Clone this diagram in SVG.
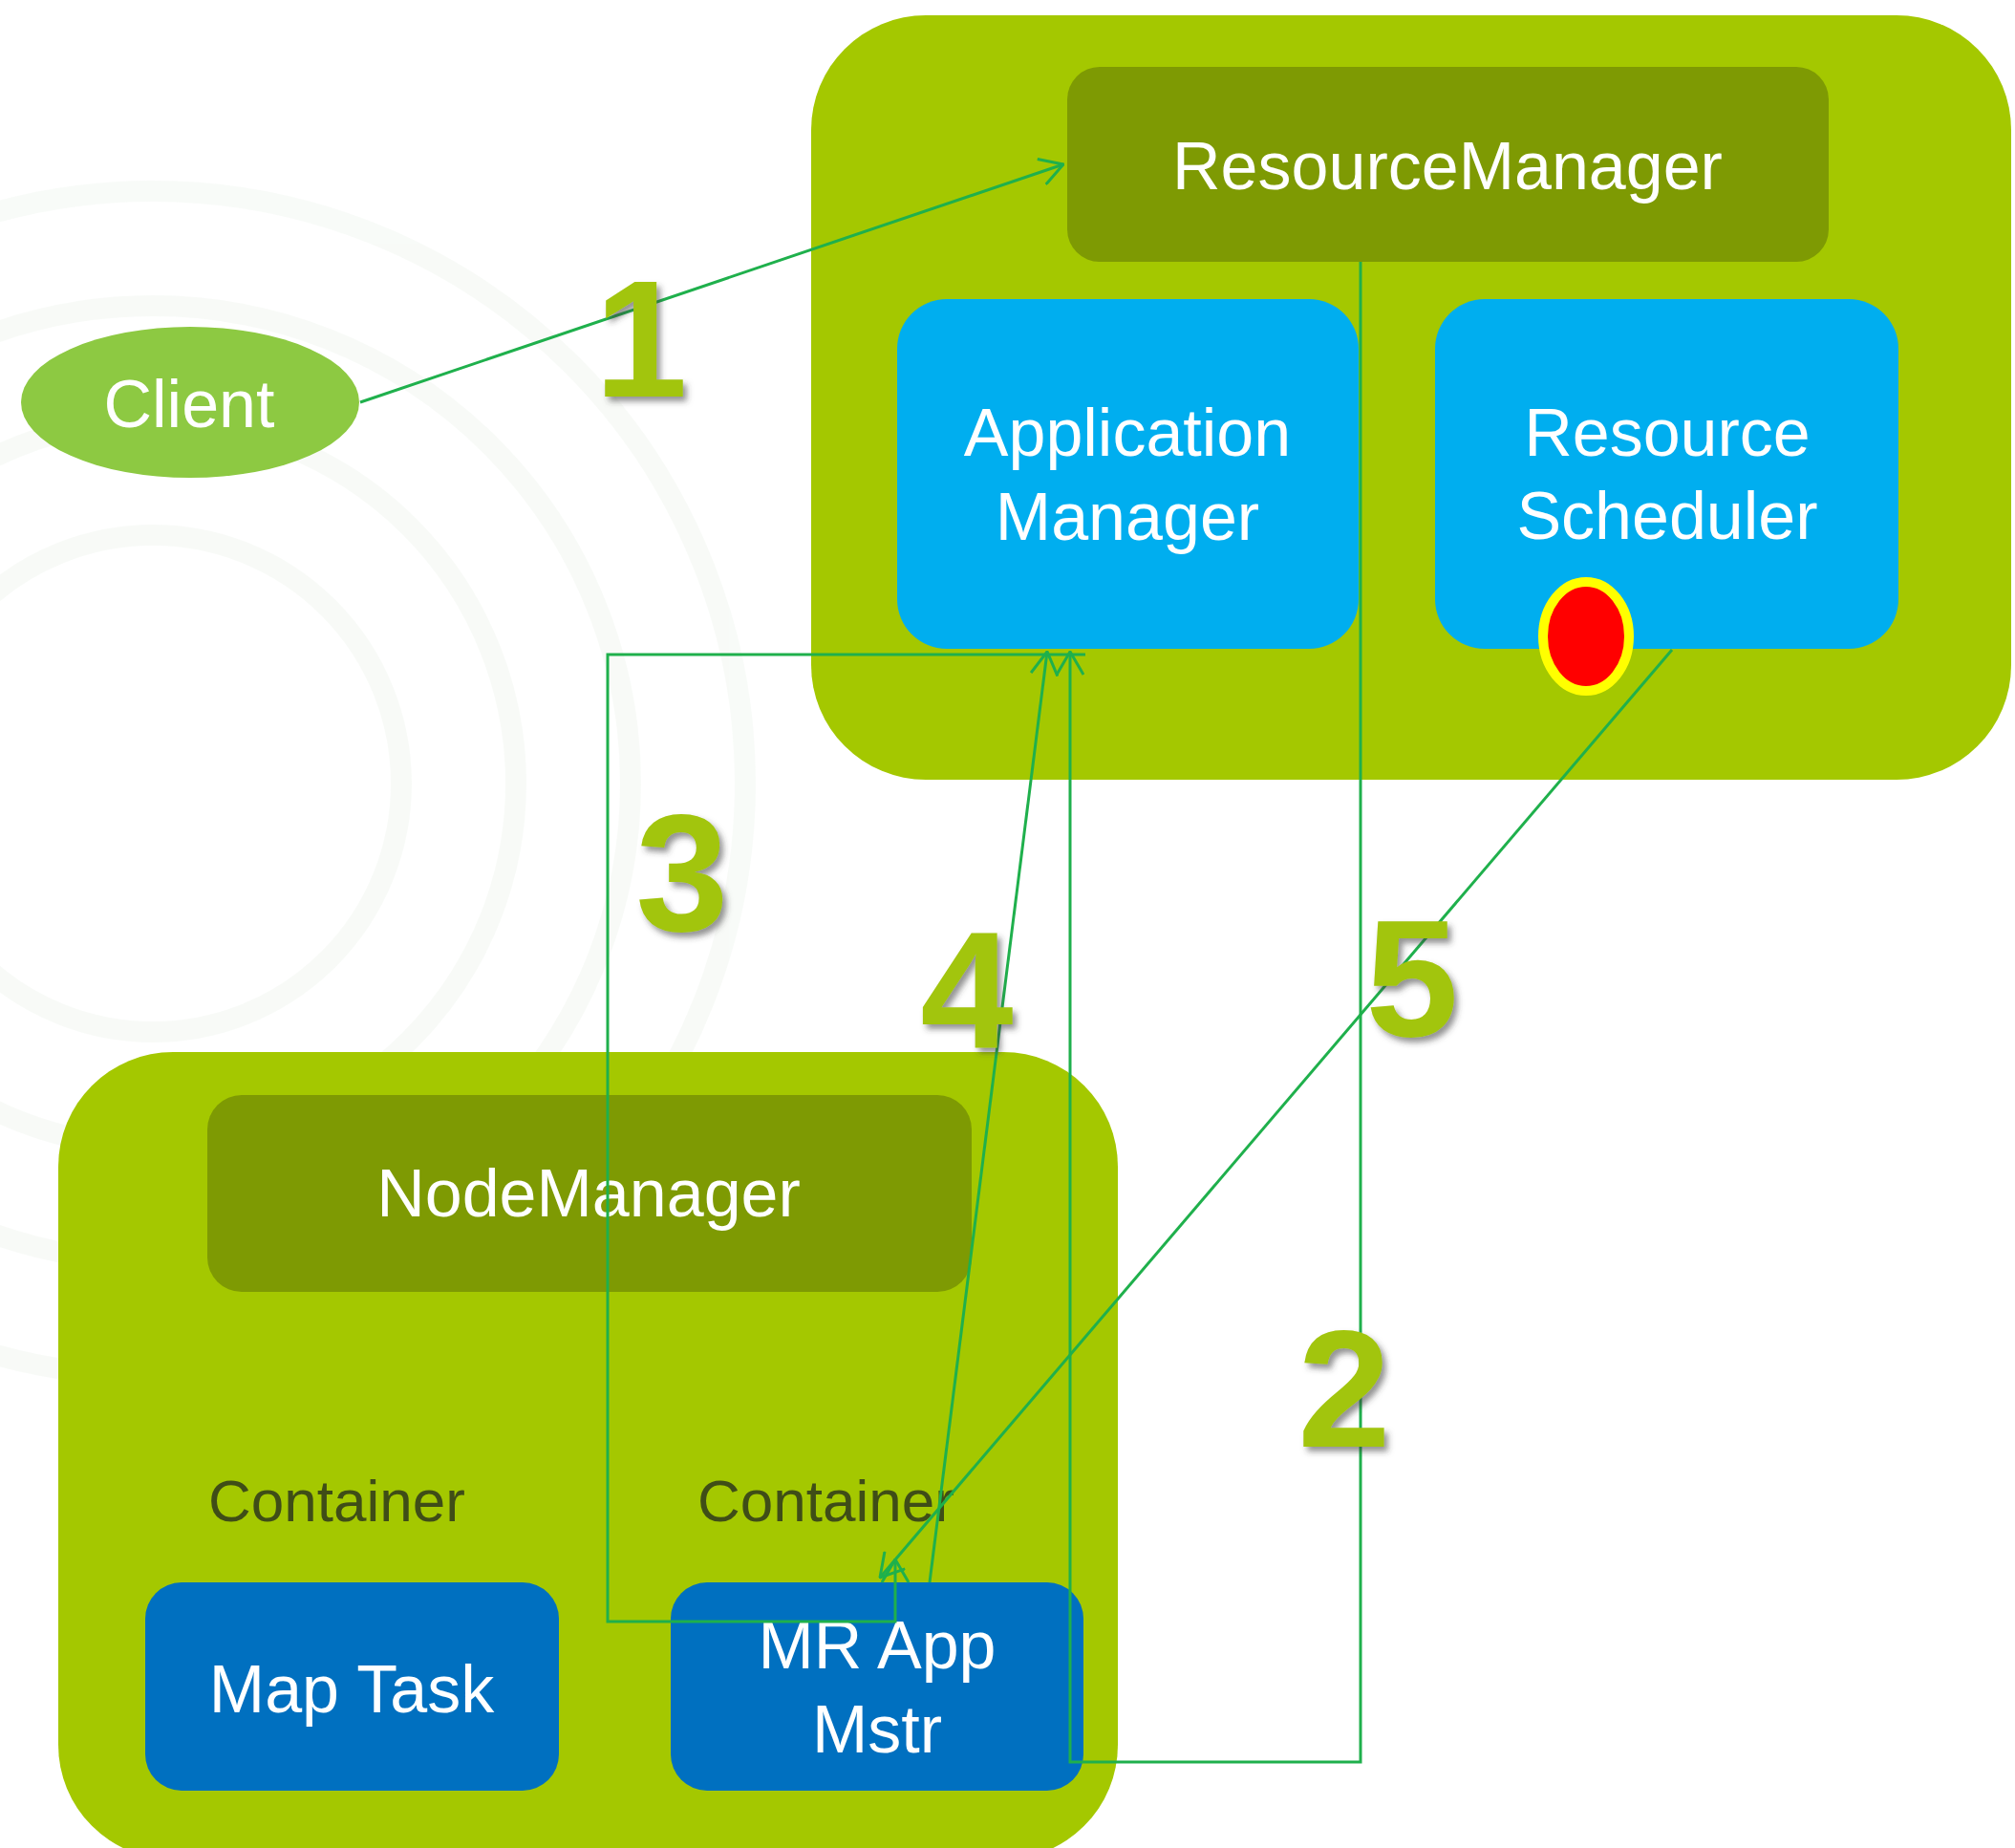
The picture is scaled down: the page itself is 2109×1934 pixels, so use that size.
<svg xmlns="http://www.w3.org/2000/svg" width="2109" height="1934" viewBox="0 0 2109 1934">
  <defs>
    <style>
      .lbl { font-family: "Liberation Sans", Arial, sans-serif; font-size: 70px; fill: #ffffff; text-anchor: middle; }
      .cont { font-family: "Liberation Sans", Arial, sans-serif; font-size: 62px; fill: #3f4d17; }
      .num { font-family: "Liberation Sans", Arial, sans-serif; font-size: 175px; font-weight: bold; fill: #a2c50e; text-anchor: middle; filter: url(#shadow); }
      .host { fill: #a4c800; }
      .mgr { fill: #7e9a03; }
      .svc { fill: #00aeef; }
      .task { fill: #0070c0; }
      .conn { fill: none; stroke: #1fb04c; stroke-width: 3; marker-end: url(#arrow); }
      .wm { fill: none; stroke: #f4f8f3; stroke-width: 22; }
    </style>
    <marker id="arrow" viewBox="0 0 26 30" refX="25" refY="15" markerWidth="26" markerHeight="30" markerUnits="userSpaceOnUse" orient="auto">
      <path d="M1,1 L25,15 L1,29" fill="none" stroke="#1fb04c" stroke-width="3"/>
    </marker>
    <filter id="shadow" x="-20%" y="-20%" width="150%" height="150%">
      <feDropShadow dx="4" dy="5" stdDeviation="3" flood-color="#3a3a3a" flood-opacity="0.55"/>
    </filter>
  </defs>

  <rect x="0" y="0" width="2109" height="1934" fill="#ffffff"/>
  <g id="watermark" opacity="0.6">
    <circle class="wm" cx="160" cy="820" r="260"/>
    <circle class="wm" cx="160" cy="820" r="380"/>
    <circle class="wm" cx="160" cy="820" r="500"/>
    <circle class="wm" cx="160" cy="820" r="620"/>
  </g>

  <g id="resourcemanager-host">
    <rect class="host" x="849" y="16" width="1256" height="800" rx="120" ry="120"/>
  </g>
  <g id="resourcemanager">
    <rect class="mgr" x="1117" y="70" width="797" height="204" rx="34" ry="34"/>
    <text class="lbl" x="1515" y="198">ResourceManager</text>
  </g>
  <g id="application-manager">
    <rect class="svc" x="939" y="313" width="483" height="366" rx="52" ry="52"/>
    <text class="lbl" x="1180" y="477">Application</text>
    <text class="lbl" x="1180" y="565">Manager</text>
  </g>
  <g id="resource-scheduler">
    <rect class="svc" x="1502" y="313" width="485" height="366" rx="52" ry="52"/>
    <text class="lbl" x="1745" y="477">Resource</text>
    <text class="lbl" x="1745" y="564">Scheduler</text>
    <ellipse cx="1660" cy="666" rx="45" ry="57" fill="#ff0000" stroke="#ffff00" stroke-width="10"/>
  </g>

  <g id="client">
    <ellipse cx="199" cy="421" rx="177" ry="79" fill="#8dc942"/>
    <text class="lbl" x="198" y="447">Client</text>
  </g>

  <g id="nodemanager-host">
    <rect class="host" x="61" y="1101" width="1109" height="845" rx="120" ry="120"/>
  </g>
  <g id="nodemanager">
    <rect class="mgr" x="217" y="1146" width="800" height="206" rx="36" ry="36"/>
    <text class="lbl" x="616" y="1273">NodeManager</text>
  </g>
  <g id="container-1">
    <text class="cont" x="218" y="1592">Container</text>
  </g>
  <g id="container-2">
    <text class="cont" x="730" y="1592">Container</text>
  </g>
  <g id="map-task">
    <rect class="task" x="152" y="1656" width="433" height="218" rx="38" ry="38"/>
    <text class="lbl" x="368" y="1792">Map Task</text>
  </g>
  <g id="mr-app-mstr">
    <rect class="task" x="702" y="1656" width="432" height="218" rx="38" ry="38"/>
    <text class="lbl" x="918" y="1746">MR App</text>
    <text class="lbl" x="918" y="1834">Mstr</text>
  </g>

  <g id="connectors">
    <path class="conn" d="M377,421 L1113,172"/>
    <path class="conn" d="M1424,274 L1424,1844 L1120,1844 L1120,682"/>
    <path class="conn" d="M1136,685 L636,685 L636,1697 L937,1697 L937,1632"/>
    <path class="conn" d="M973,1656 L1096,682"/>
    <path class="conn" d="M1750,680 L921,1651"/>
  </g>

  <g id="step-labels">
    <text class="num" x="671" y="415">1</text>
    <text class="num" x="1407" y="1514">2</text>
    <text class="num" x="714" y="974">3</text>
    <text class="num" x="1012" y="1096">4</text>
    <text class="num" x="1478" y="1084">5</text>
  </g>
</svg>
